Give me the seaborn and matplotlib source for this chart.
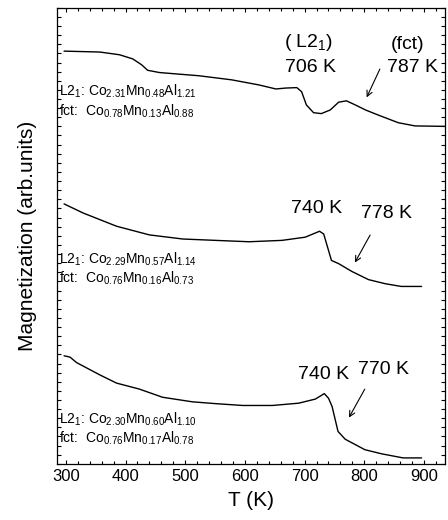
import numpy as np
import pandas as pd
import matplotlib
matplotlib.use('Agg')
import matplotlib.pyplot as plt
import seaborn as sns
from matplotlib.ticker import MultipleLocator

#-------------------------------------------------------
# curves (T in K, magnetization in arb. units)
t_a=[297, 357, 390, 412, 427, 437, 457, 523, 578, 623, 652, 668, 687, 695, 703, 715, 728, 743, 757, 770, 785, 802, 823, 857, 885, 935]
m_a=[9.05, 9.03, 8.97, 8.88, 8.75, 8.63, 8.58, 8.51, 8.42, 8.31, 8.22, 8.24, 8.25, 8.16, 7.87, 7.70, 7.68, 7.76, 7.93, 7.96, 7.87, 7.76, 7.65, 7.48, 7.41, 7.40]

t_b=[297, 329, 385, 440, 496, 551, 607, 662, 701, 725, 732, 745, 757, 779, 807, 835, 862, 896]
m_b=[5.70, 5.50, 5.21, 5.02, 4.93, 4.90, 4.87, 4.90, 4.97, 5.10, 5.04, 4.46, 4.39, 4.22, 4.04, 3.95, 3.89, 3.89]

t_c=[297, 307, 318, 357, 385, 423, 462, 512, 551, 596, 646, 690, 718, 733, 740, 746, 756, 768, 801, 829, 865, 896]
m_c=[2.37, 2.34, 2.22, 1.95, 1.77, 1.64, 1.46, 1.36, 1.32, 1.28, 1.28, 1.33, 1.42, 1.54, 1.44, 1.26, 0.71, 0.54, 0.31, 0.22, 0.13, 0.13]

l_comp=[
    (r'L2$_1$: Co$_{2.31}$Mn$_{0.48}$Al$_{1.21}$', r'fct:  Co$_{0.78}$Mn$_{0.13}$Al$_{0.88}$'),
    (r'L2$_1$: Co$_{2.29}$Mn$_{0.57}$Al$_{1.14}$', r'fct:  Co$_{0.76}$Mn$_{0.16}$Al$_{0.73}$'),
    (r'L2$_1$: Co$_{2.30}$Mn$_{0.60}$Al$_{1.10}$', r'fct:  Co$_{0.76}$Mn$_{0.17}$Al$_{0.78}$'),
]
l_comp_y=[7.74, 4.06, 0.55]

#-------------------------------------------------------
sns.set_style('ticks')
plt.rcParams['font.family']=['Liberation Sans', 'DejaVu Sans']
plt.rcParams['mathtext.fontset']='custom'
plt.rcParams['mathtext.rm']='Liberation Sans'
plt.rcParams['mathtext.it']='Liberation Sans'
plt.rcParams['mathtext.default']='regular'
for k in ['text.color', 'axes.labelcolor', 'axes.edgecolor', 'xtick.color', 'ytick.color']:
    plt.rcParams[k]='black'

df=pd.concat([
    pd.DataFrame({'T': t_a, 'M': m_a, 's': 'a'}),
    pd.DataFrame({'T': t_b, 'M': m_b, 's': 'b'}),
    pd.DataFrame({'T': t_c, 'M': m_c, 's': 'c'}),
])

fig=plt.figure(figsize=(4.48, 5.2), dpi=100)
ax=fig.add_axes([0.127, 0.108, 0.866, 0.877])
for s in ['a', 'b', 'c']:
    sns.lineplot(data=df[df['s']==s], x='T', y='M', color='black', lw=1.0, ax=ax, sort=False, legend=False)

ax.set_xlim(285, 935)
ax.set_ylim(0, 10)
ax.xaxis.set_major_locator(MultipleLocator(100))
ax.xaxis.set_minor_locator(MultipleLocator(20))
ax.yaxis.set_major_locator(MultipleLocator(0.2))
ax.tick_params(which='both', direction='in', top=True, right=True, labelleft=False, width=0.8)
ax.tick_params(which='major', length=3)
ax.tick_params(which='minor', length=2)
ax.tick_params(axis='x', labelsize=12, pad=4)
for sp in ax.spines.values():
    sp.set_linewidth(0.9)

ax.set_xlabel('T (K)', fontsize=15, labelpad=5)
ax.set_ylabel('Magnetization (arb.units)', fontsize=15, labelpad=14)

#compositions
for (l1, l2), y in zip(l_comp, l_comp_y):
    ax.text(288, y+0.42, l1, fontsize=10, va='center', ha='left')
    ax.text(288, y, l2, fontsize=10, va='center', ha='left')

#transition labels
ax.text(707, 9.25, r'( L2$_1$)', fontsize=14, ha='center', va='center')
ax.text(710, 8.7, '706 K', fontsize=14, ha='center', va='center')
ax.text(873, 9.2, '(fct)', fontsize=14, ha='center', va='center')
ax.text(880, 8.7, '787 K', fontsize=14, ha='center', va='center')
ax.annotate('', xy=(802, 7.98), xytext=(828, 8.71),
            arrowprops=dict(arrowstyle='->', lw=0.8, color='black'))

ax.text(720, 5.59, '740 K', fontsize=14, ha='center', va='center')
ax.text(837, 5.48, '778 K', fontsize=14, ha='center', va='center')
ax.annotate('', xy=(782, 4.36), xytext=(812, 5.07),
            arrowprops=dict(arrowstyle='->', lw=0.8, color='black'))

ax.text(732, 1.95, '740 K', fontsize=14, ha='center', va='center')
ax.text(833, 2.06, '770 K', fontsize=14, ha='center', va='center')
ax.annotate('', xy=(772, 0.96), xytext=(803, 1.69),
            arrowprops=dict(arrowstyle='->', lw=0.8, color='black'))

fig.savefig('out.png', dpi=100)
plt.close()
